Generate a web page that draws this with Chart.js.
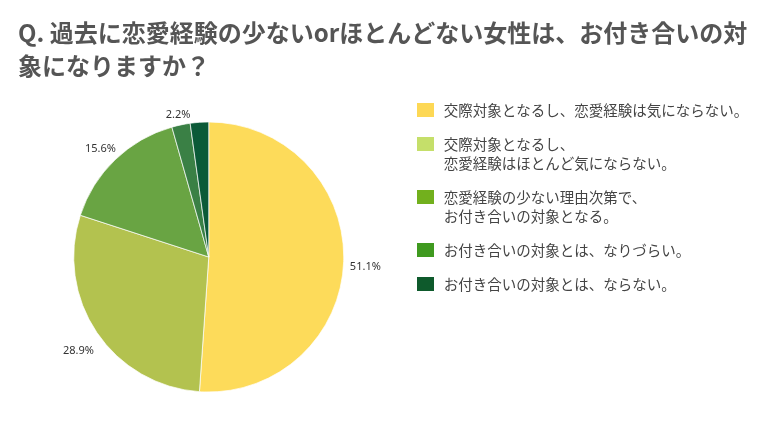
<!DOCTYPE html>
<html lang="ja">
<head>
<meta charset="utf-8">
<title>恋愛経験の少ない女性は、お付き合いの対象になりますか？</title>
<script src="https://cdn.jsdelivr.net/npm/chart.js@4/dist/chart.umd.min.js"></script>
<style>
  html, body { margin: 0; padding: 0; background: #fff; }
  canvas { display: block; }
</style>
</head>
<body>
<canvas id="pieChart" width="768" height="426"></canvas>
<script>
// --- datos del gráfico ---
const titleLines = ['Q. 過去に恋愛経験の少ないorほとんどない女性は、お付き合いの対', '象になりますか？'];
const categories = [
  '交際対象となるし、恋愛経験は気にならない。',
  '交際対象となるし、\n恋愛経験はほとんど気にならない。',
  '恋愛経験の少ない理由次第で、\nお付き合いの対象となる。',
  'お付き合いの対象とは、なりづらい。',
  'お付き合いの対象とは、ならない。'
];
const percentages = [51.1, 28.9, 15.6, 2.2, 2.2];
const showValue = [true, true, true, true, false]; // el último no lleva etiqueta
const sliceColors = ['#FDDB5A', '#B3C24F', '#69A443', '#3A8045', '#0B5A38'];
const legendColors = ['#FDD855', '#C5DF6A', '#72B01D', '#3F9A1F', '#0E5A2C'];

const JP_FONT = "'Noto Sans CJK JP', 'Noto Sans', sans-serif";

// cuadrito de color para la leyenda (un poco separado del texto)
function swatch(color) {
  const c = document.createElement('canvas');
  c.width = 17;
  c.height = 14;
  const g = c.getContext('2d');
  g.fillStyle = color;
  g.fillRect(0, 0, c.width, c.height);
  return c;
}

// etiquetas de porcentaje fuera de la tarta
const outsideLabels = {
  id: 'outsideLabels',
  afterDatasetsDraw(chart) {
    const { ctx } = chart;
    const meta = chart.getDatasetMeta(0);
    ctx.save();
    ctx.font = "11px 'Noto Sans', sans-serif";
    ctx.fillStyle = '#333';
    ctx.textAlign = 'center';
    ctx.textBaseline = 'middle';
    meta.data.forEach((arc, i) => {
      if (!showValue[i]) return;
      const p = arc.getProps(['x', 'y', 'startAngle', 'endAngle', 'outerRadius'], true);
      const mid = (p.startAngle + p.endAngle) / 2;
      const text = percentages[i].toFixed(1) + '%';
      const tw = ctx.measureText(text).width;
      const cos = Math.cos(mid), sin = Math.sin(mid);
      const dist = p.outerRadius + 6 + (tw / 2) * Math.abs(cos) + 6 * Math.abs(sin);
      ctx.fillText(text, p.x + dist * cos, p.y + dist * sin + 4 + 3 * Math.max(sin, 0));
    });
    ctx.restore();
  }
};

new Chart(document.getElementById('pieChart').getContext('2d'), {
  type: 'pie',
  data: {
    labels: categories,
    datasets: [{
      data: percentages,
      backgroundColor: sliceColors,
      borderColor: 'rgba(255, 255, 255, 0.7)',
      borderWidth: 1,
      radius: 135
    }]
  },
  options: {
    responsive: false,
    animation: false,
    devicePixelRatio: 1,
    layout: { padding: { left: 18, right: 13.5, top: 0, bottom: 0 } },
    plugins: {
      title: {
        display: true,
        text: titleLines,
        align: 'start',
        color: '#555',
        font: { family: JP_FONT, size: 24, weight: 'bold', lineHeight: 1.375 },
        padding: { top: 16.5, bottom: 5.5 }
      },
      legend: {
        position: 'right',
        align: 'start',
        fullSize: false,
        maxWidth: 355,
        labels: {
          usePointStyle: true,
          pointStyleWidth: 22,
          boxHeight: 14,
          padding: 15,
          color: '#444',
          font: { family: JP_FONT, size: 14.5, lineHeight: 1.31 },
          generateLabels: () => categories.map((c, i) => ({
            text: c.split('\n'),
            fillStyle: legendColors[i],
            strokeStyle: legendColors[i],
            pointStyle: swatch(legendColors[i]),
            lineWidth: 0,
            fontColor: '#444',
            hidden: false,
            index: i
          }))
        }
      },
      tooltip: { enabled: false }
    }
  },
  plugins: [outsideLabels]
});
</script>
</body>
</html>
